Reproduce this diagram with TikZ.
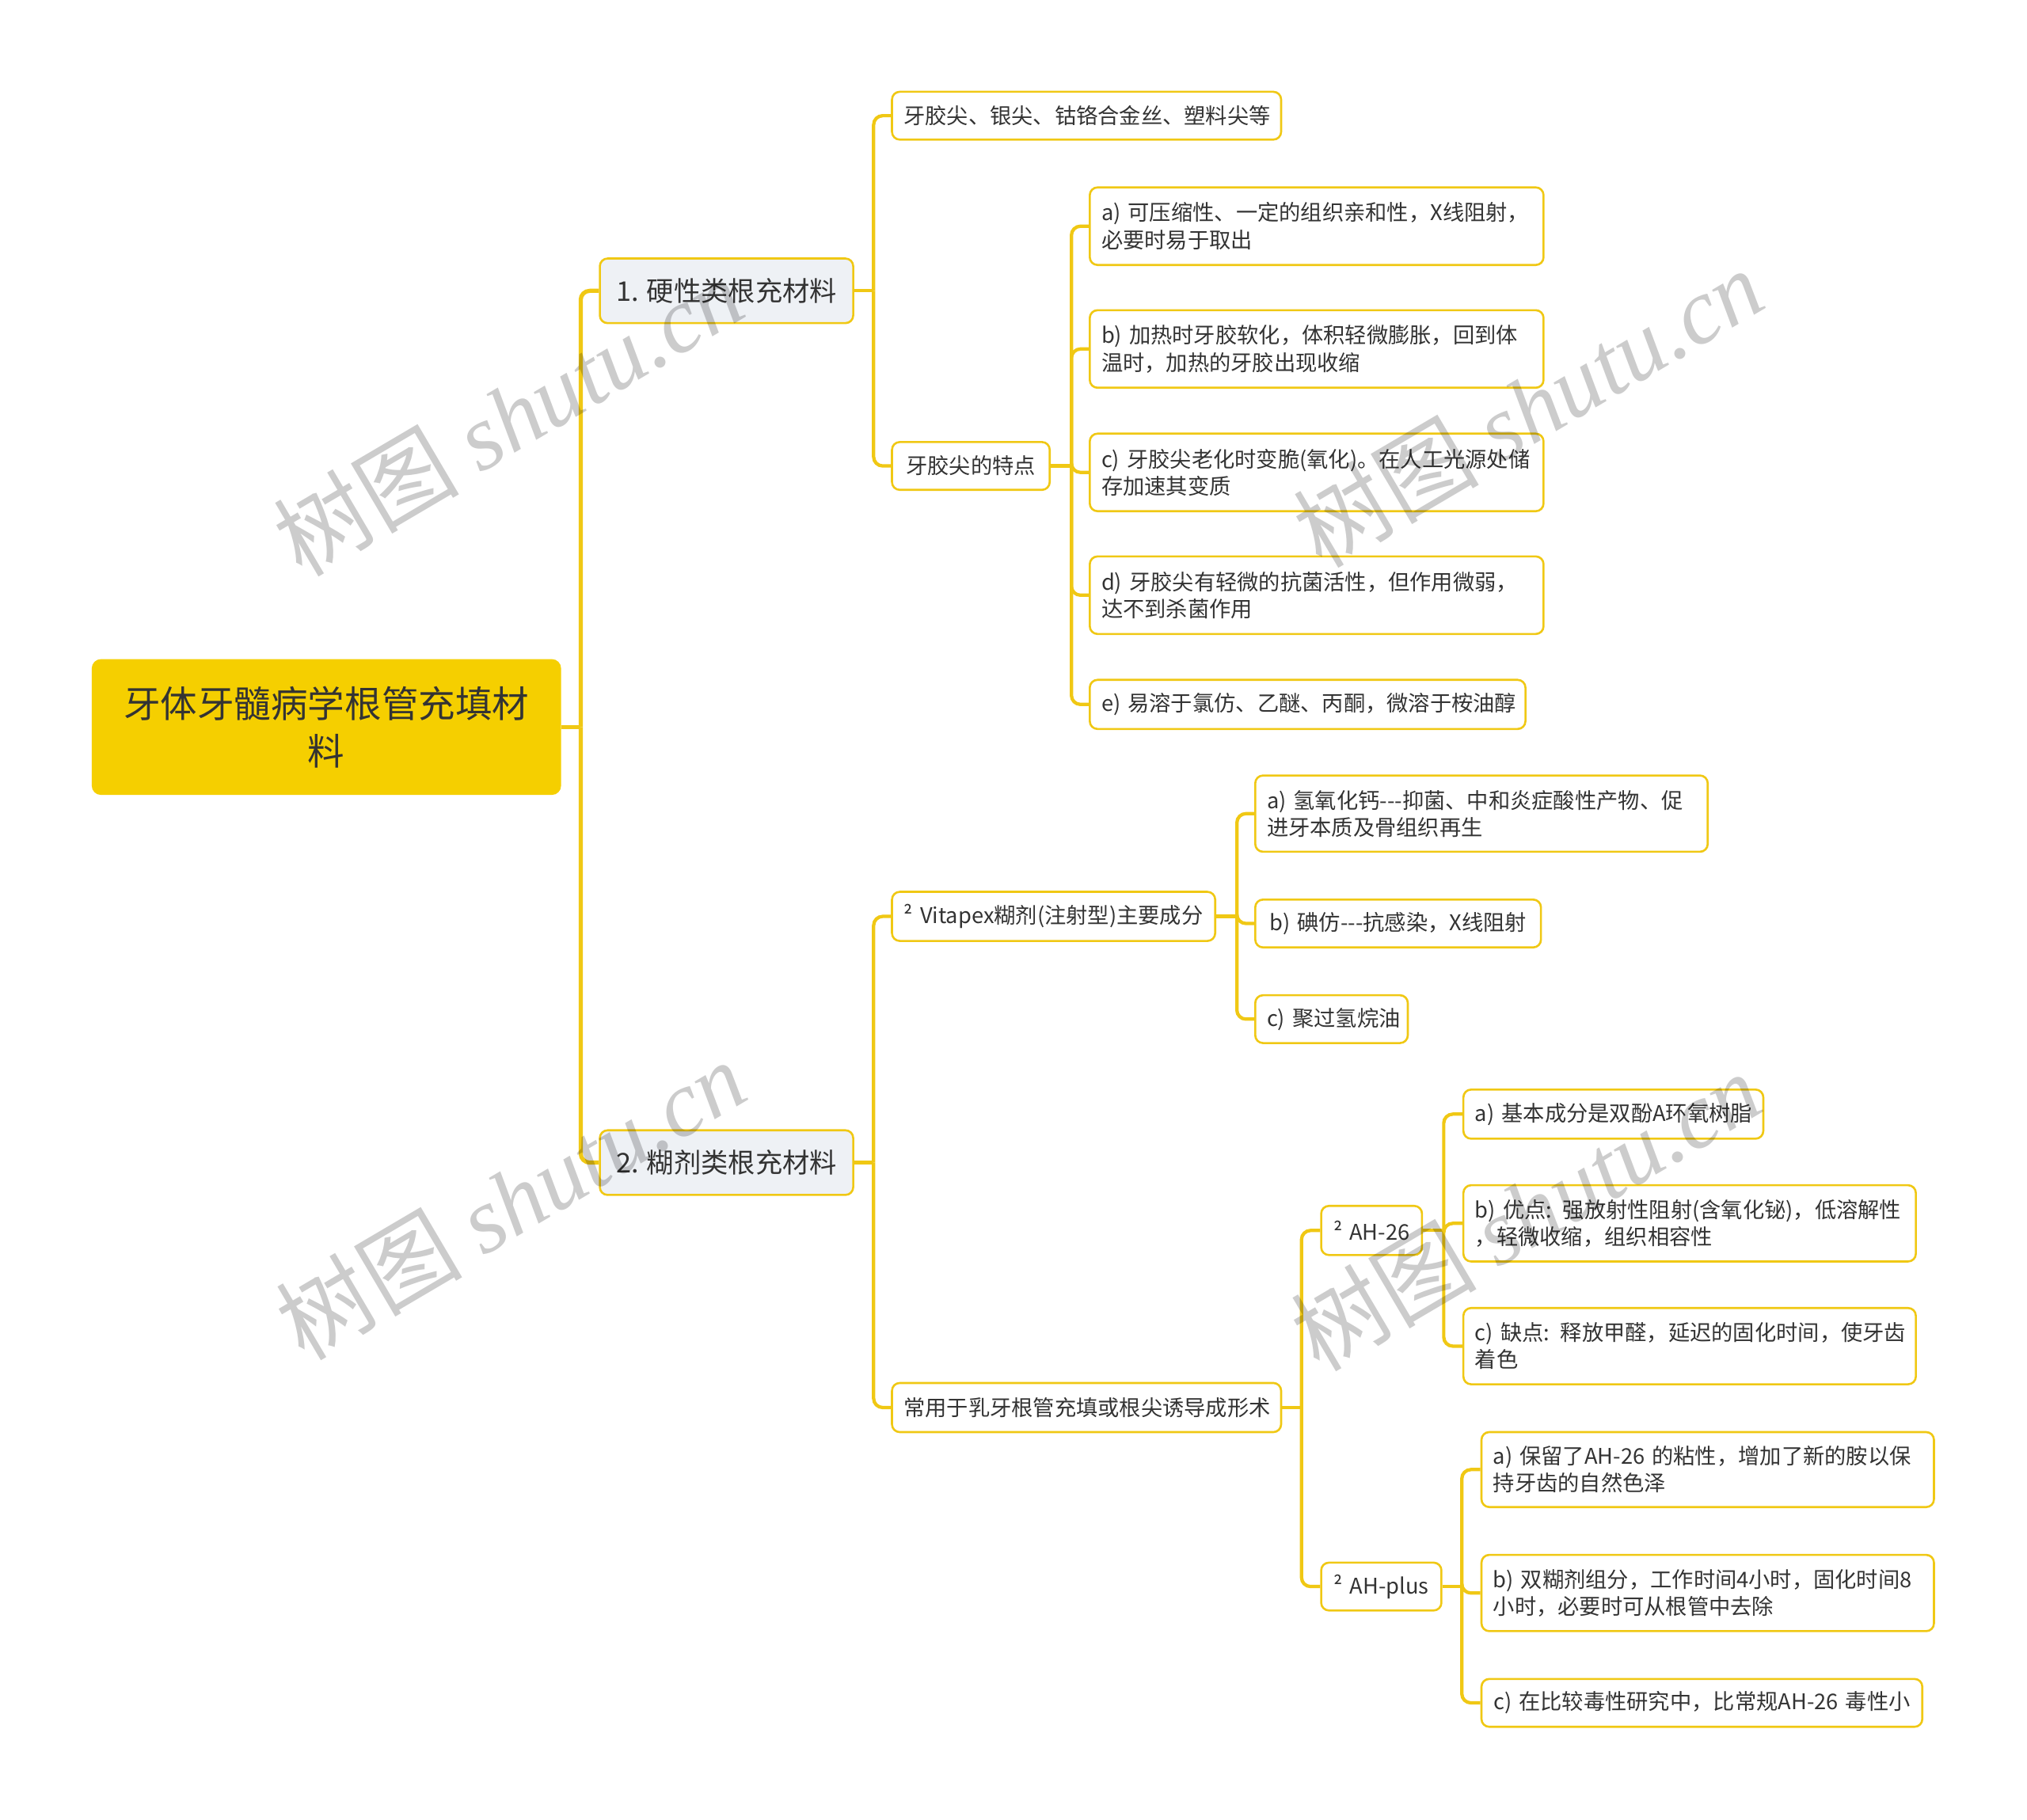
\documentclass[tikz,border=0pt]{standalone}
\usepackage{fontspec}
\setmainfont{Noto Sans CJK SC}
\newfontfamily\wmfont{Liberation Serif}
\usetikzlibrary{calc}
\definecolor{gold}{HTML}{F0C814}
\definecolor{rootfill}{HTML}{F5CF00}
\definecolor{lonefill}{HTML}{EEF1F5}
\definecolor{txt}{HTML}{333333}
\newcommand{\oneline}[1]{\mbox{#1}}
\newcommand{\hy}{-{}-{}-}
\tikzset{
 conn/.style={draw=gold, line width=2.6pt, rounded corners=7pt},
 trunk/.style={conn, line width=3.2pt},
 leafbox/.style={draw=gold, line width=1.6pt, fill=white, rounded corners=6pt, inner xsep=9pt, inner ysep=0pt, text=txt, font=\fontsize{16.7}{21}\selectfont},
 lt/.style={leafbox, align=left},
 ct/.style={leafbox, align=center},
 lonebox/.style={draw=gold, line width=1.6pt, fill=lonefill, rounded corners=6pt, inner sep=0pt, text=txt, font=\fontsize{21}{26}\selectfont, align=center},
 rootbox/.style={fill=rootfill, rounded corners=7pt, inner sep=0pt, text=txt, font=\fontsize{28.5}{37}\selectfont, align=center},
 wm/.style={text=black, text opacity=0.2, rotate=30.5, font=\fontsize{72}{72}\selectfont}
}
\begin{document}
\begin{tikzpicture}[x=1pt,y=-1pt]
\useasboundingbox[fill=white] (0,0) rectangle (1568,1408);

% root and level 1
\node[rootbox, minimum width=363pt, minimum height=105pt, text width=340pt] (root) at (252.5,562.5) {\oneline{牙体牙髓病学根管充填材}\\料};
\node[lonebox, minimum width=196pt, minimum height=50pt] (n1) at (562,225) {1. 硬性类根充材料};
\node[lonebox, minimum width=196pt, minimum height=50pt] (n2) at (562,899.5) {2. 糊剂类根充材料};

% branch 1
\node[ct, text width=283pt, minimum height=37pt] (c11) at (840.5,89.5) {\oneline{牙胶尖、银尖、钴铬合金丝、塑料尖等}};
\node[ct, text width=104pt, minimum height=37pt] (c12) at (751,360.5) {\oneline{牙胶尖的特点}};
\node[lt, text width=333pt, minimum height=60pt] (p1) at (1018.5,175) {\oneline{a) 可压缩性、一定的组织亲和性，X线阻射，}\\\oneline{必要时易于取出}};
\node[lt, text width=333pt, minimum height=60pt] (p2) at (1018.5,270) {\oneline{b) 加热时牙胶软化，体积轻微膨胀，回到体}\\\oneline{温时，加热的牙胶出现收缩}};
\node[lt, text width=333pt, minimum height=60pt] (p3) at (1018.5,365.5) {\oneline{c) 牙胶尖老化时变脆(氧化)。在人工光源处储}\\\oneline{存加速其变质}};
\node[lt, text width=333pt, minimum height=60pt] (p4) at (1018.5,460.5) {\oneline{d) 牙胶尖有轻微的抗菌活性，但作用微弱，}\\\oneline{达不到杀菌作用}};
\node[ct, text width=319pt, minimum height=38pt] (p5) at (1011.5,545) {\oneline{e) 易溶于氯仿、乙醚、丙酮，微溶于桉油醇}};

% branch 2
\node[ct, text width=232pt, minimum height=38pt] (c21) at (815,709) {\oneline{² Vitapex糊剂(注射型)主要成分}};
\node[ct, text width=283pt, minimum height=38pt] (c22) at (840.5,1089) {\oneline{常用于乳牙根管充填或根尖诱导成形术}};
\node[lt, text width=332pt, minimum height=59pt] (v1) at (1146,629.5) {\oneline{a) 氢氧化钙\hy 抑菌、中和炎症酸性产物、促}\\\oneline{进牙本质及骨组织再生}};
\node[ct, text width=203pt, minimum height=37pt] (v2) at (1081.5,714.5) {\oneline{b) 碘仿\hy 抗感染，X线阻射}};
\node[ct, text width=100pt, minimum height=37pt] (v3) at (1030,788.5) {\oneline{c) 聚过氢烷油}};
\node[ct, text width=60pt, minimum height=38pt] (ah) at (1061,952) {\oneline{² AH-26}};
\node[ct, text width=75pt, minimum height=37pt] (ap) at (1068.5,1227.5) {\oneline{² AH-plus}};
\node[ct, text width=214pt, minimum height=38pt] (ah1) at (1248,862) {\oneline{a) 基本成分是双酚A环氧树脂}};
\node[lt, text width=332pt, minimum height=59pt] (ah2) at (1307,946.5) {\oneline{b) 优点: 强放射性阻射(含氧化铋)，低溶解性}\\\oneline{，轻微收缩，组织相容性}};
\node[lt, text width=332pt, minimum height=59pt] (ah3) at (1307,1041.5) {\oneline{c) 缺点: 释放甲醛，延迟的固化时间，使牙齿}\\\oneline{着色}};
\node[lt, text width=332pt, minimum height=58pt] (ap1) at (1321,1137) {\oneline{a) 保留了AH-26 的粘性，增加了新的胺以保}\\\oneline{持牙齿的自然色泽}};
\node[lt, text width=332pt, minimum height=59pt] (ap2) at (1321,1232.5) {\oneline{b) 双糊剂组分，工作时间4小时，固化时间8}\\\oneline{小时，必要时可从根管中去除}};
\node[ct, text width=323pt, minimum height=37pt] (ap3) at (1316.5,1317.5) {\oneline{c) 在比较毒性研究中，比常规AH-26 毒性小}};

% connectors
\coordinate (j0) at ($(root.east)+(15,0)$);
\draw[trunk] (root.east) -- (j0);
\draw[trunk] (j0) |- (n1.west);
\draw[trunk] (j0) |- (n2.west);

\coordinate (j1) at ($(n1.east)+(15,0)$);
\draw[conn] (n1.east) -- (j1);
\foreach \c in {c11,c12} \draw[conn] (j1) |- (\c.west);

\coordinate (j2) at ($(c12.east)+(16,0)$);
\draw[conn] (c12.east) -- (j2);
\foreach \c in {p1,p2,p3,p4,p5} \draw[conn] (j2) |- (\c.west);

\coordinate (j3) at ($(n2.east)+(15,0)$);
\draw[conn] (n2.east) -- (j3);
\foreach \c in {c21,c22} \draw[conn] (j3) |- (\c.west);

\coordinate (j4) at ($(c21.east)+(16,0)$);
\draw[conn] (c21.east) -- (j4);
\foreach \c in {v1,v2,v3} \draw[conn] (j4) |- (\c.west);

\coordinate (j5) at ($(c22.east)+(15,0)$);
\draw[conn] (c22.east) -- (j5);
\foreach \c in {ah,ap} \draw[conn] (j5) |- (\c.west);

\coordinate (j6) at ($(ah.east)+(16,0)$);
\draw[conn] (ah.east) -- (j6);
\foreach \c in {ah1,ah2,ah3} \draw[conn] (j6) |- (\c.west);

\coordinate (j7) at ($(ap.east)+(15,0)$);
\draw[conn] (ap.east) -- (j7);
\foreach \c in {ap1,ap2,ap3} \draw[conn] (j7) |- (\c.west);

% watermarks
\node[wm] (w1) at (393,322) {树图 {\wmfont\itshape shutu.cn}};
\node[wm] (w2) at (1182,315) {树图 {\wmfont\itshape shutu.cn}};
\node[wm] (w3) at (395,928) {树图 {\wmfont\itshape shutu.cn}};
\node[wm] (w4) at (1180,937) {树图 {\wmfont\itshape shutu.cn}};
\end{tikzpicture}
\end{document}
